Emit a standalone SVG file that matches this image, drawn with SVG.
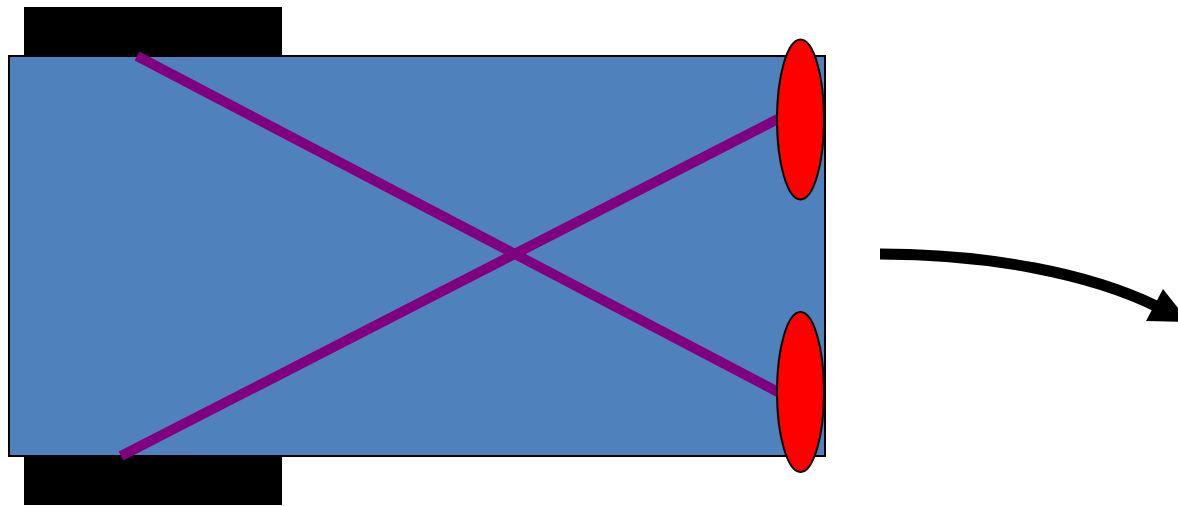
<svg xmlns="http://www.w3.org/2000/svg" width="1178" height="506" viewBox="0 0 1178 506">
<style>
.wheel{fill:#000}
.body{fill:#4f81bd;stroke:#000;stroke-width:2}
.sensor{fill:#ff0000;stroke:#000;stroke-width:2}
.wire{stroke:#800080;stroke-width:10;fill:none}
.arrow{stroke:#000;stroke-width:11;fill:none}
</style>
<rect width="1178" height="506" fill="#fff"/>
<g id="wheel-top"><rect class="wheel" x="24" y="7" width="258" height="50"/></g>
<g id="wheel-bottom"><rect class="wheel" x="24" y="455" width="258" height="50"/></g>
<g id="body"><rect class="body" x="9" y="56" width="816" height="400"/></g>
<g id="connectors">
<line class="wire" x1="137" y1="56" x2="778" y2="392"/>
<line class="wire" x1="121" y1="456" x2="778" y2="119"/>
</g>
<g id="sensor-top"><ellipse class="sensor" cx="800.5" cy="119.5" rx="23.5" ry="80"/></g>
<g id="sensor-bottom"><ellipse class="sensor" cx="800.5" cy="392" rx="23.5" ry="80"/></g>
<g id="arrow">
<path class="arrow" d="M880,254 C990,254 1090,274 1156,306"/>
<polygon points="1163,289 1146,321 1189,322" fill="#000"/>
</g>
</svg>
